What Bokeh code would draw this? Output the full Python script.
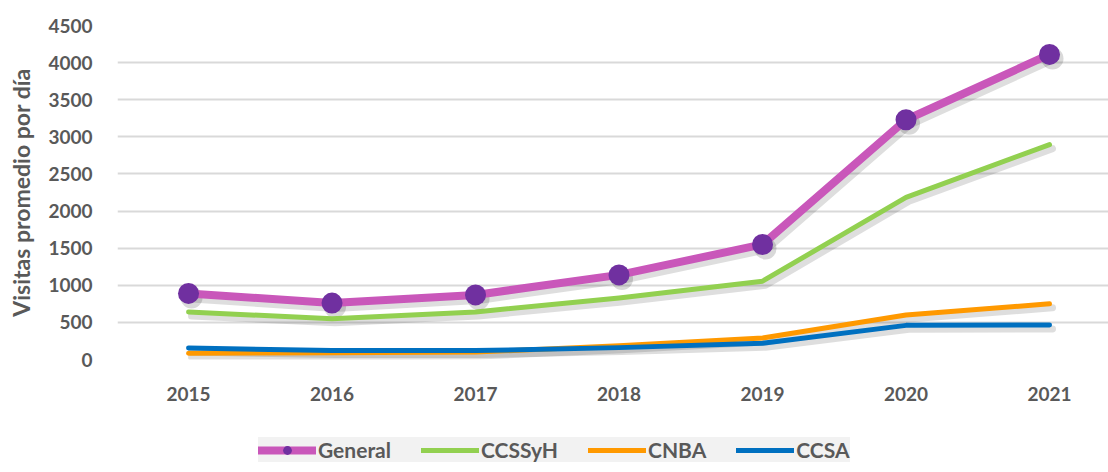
from bokeh.plotting import figure
from bokeh.layouts import column
from bokeh.models import Range1d, FixedTicker, Legend, LegendItem, ColumnDataSource
from bokeh.embed import file_html
from bokeh.resources import INLINE

years = [2015, 2016, 2017, 2018, 2019, 2020, 2021]
general = [890, 760, 870, 1140, 1550, 3230, 4110]
ccssyh = [640, 550, 640, 830, 1055, 2185, 2895]
cnba = [85, 90, 100, 185, 290, 600, 750]
ccsa = [155, 120, 120, 160, 220, 460, 465]
y_ticks = [0, 500, 1000, 1500, 2000, 2500, 3000, 3500, 4000, 4500]
x_labels = {y: str(y) for y in years}
y_label = "Visitas promedio por día"
series_names = ["General", "CCSSyH", "CNBA", "CCSA"]

FONT = "Lato"
TXT = "#595959"
C_GEN, C_GEN_M, C_CC, C_CN, C_CA = "#C957BA", "#7030A0", "#92D050", "#FF9900", "#0070C0"

W, H = 1108, 418
TOP, BOT, LEFT = 25, 59, 117
x0, x1 = 2014.505, 2021.411
y0, y1 = 0, 4500

p = figure(width=W, height=H, output_backend="svg", toolbar_location=None,
           x_range=Range1d(x0, x1), y_range=Range1d(y0, y1),
           min_border_left=LEFT, min_border_top=TOP, min_border_right=0,
           min_border_bottom=BOT)
p.outline_line_color = None

# shadow ranges (offset by a few screen pixels)
frame_w = W - LEFT
frame_h = H - TOP - BOT
dx = 3.0 * (x1 - x0) / frame_w
dy = 4.0 * (y1 - y0) / frame_h
p.extra_x_ranges = {"sx": Range1d(x0 - dx, x1 - dx)}
p.extra_y_ranges = {"sy": Range1d(y0 + dy, y1 + dy)}

src = ColumnDataSource(dict(x=years, general=general, ccssyh=ccssyh, cnba=cnba, ccsa=ccsa))

p.xgrid.grid_line_color = None
p.ygrid.ticker = FixedTicker(ticks=y_ticks)
p.ygrid.grid_line_color = "#D9D9D9"
p.ygrid.grid_line_width = 2

for col, w in [("general", 10), ("ccssyh", 7), ("cnba", 7), ("ccsa", 7)]:
    p.line("x", col, source=src, line_width=w, line_color="#000000", line_alpha=0.13,
           x_range_name="sx", y_range_name="sy", line_join="round", line_cap="round")
p.scatter("x", "general", source=src, size=22, fill_color="#000000", fill_alpha=0.15,
          line_color=None, x_range_name="sx", y_range_name="sy")

p.line("x", "general", source=src, line_width=8, line_color=C_GEN,
       line_join="round", line_cap="round")
p.scatter("x", "general", source=src, size=21, fill_color=C_GEN_M, line_color=None)
p.line("x", "ccssyh", source=src, line_width=5, line_color=C_CC,
       line_join="round", line_cap="round")
p.line("x", "cnba", source=src, line_width=5, line_color=C_CN,
       line_join="round", line_cap="round")
p.line("x", "ccsa", source=src, line_width=5, line_color=C_CA,
       line_join="round", line_cap="round")

p.xaxis.ticker = FixedTicker(ticks=years)
p.xaxis.major_label_overrides = x_labels
p.yaxis.ticker = FixedTicker(ticks=y_ticks)
for ax in (p.xaxis[0], p.yaxis[0]):
    ax.axis_line_color = None
    ax.major_tick_line_color = None
    ax.minor_tick_line_color = None
    ax.major_label_text_font = FONT
    ax.major_label_text_font_style = "bold"
    ax.major_label_text_font_size = "19px"
    ax.major_label_text_color = TXT
p.xaxis.major_label_standoff = 21
p.yaxis.major_label_standoff = 19
p.yaxis.axis_label = y_label
p.yaxis.axis_label_text_font = FONT
p.yaxis.axis_label_text_font_style = "bold"
p.yaxis.axis_label_text_font_size = "23px"
p.yaxis.axis_label_text_color = TXT
p.yaxis.axis_label_standoff = 10

# legend strip (its renderers use the same data, which lies outside this strip's ranges)
q = figure(width=W, height=54, output_backend="svg", toolbar_location=None,
           x_range=Range1d(0, 1), y_range=Range1d(0, 1),
           x_axis_type=None, y_axis_type=None,
           min_border_left=0, min_border_right=0, min_border_top=0, min_border_bottom=0)
q.outline_line_color = None
q.xgrid.grid_line_color = None
q.ygrid.grid_line_color = None
l_gen = q.line("x", "general", source=src, line_width=8, line_color=C_GEN, line_cap="round")
l_gen_m = q.scatter("x", "general", source=src, size=21, fill_color=C_GEN_M, line_color=None)
l_cc = q.line("x", "ccssyh", source=src, line_width=5, line_color=C_CC, line_cap="round")
l_cn = q.line("x", "cnba", source=src, line_width=5, line_color=C_CN, line_cap="round")
l_ca = q.line("x", "ccsa", source=src, line_width=5, line_color=C_CA, line_cap="round")

legend = Legend(items=[
    LegendItem(label=series_names[0], renderers=[l_gen, l_gen_m]),
    LegendItem(label=series_names[1], renderers=[l_cc]),
    LegendItem(label=series_names[2], renderers=[l_cn]),
    LegendItem(label=series_names[3], renderers=[l_ca]),
], orientation="horizontal", location=(141, 10))
legend.background_fill_color = "#F2F2F2"
legend.background_fill_alpha = 1
legend.border_line_color = None
legend.label_text_font = FONT
legend.label_text_font_style = "bold"
legend.label_text_font_size = "21px"
legend.label_text_color = TXT
legend.glyph_width = 58
legend.glyph_height = 22
legend.label_standoff = 2
legend.spacing = 30
legend.padding = 11
legend.margin = 0
legend.label_height = 22
q.add_layout(legend, "center")

layout = column(p, q, spacing=0)
open("out.html", "w").write(file_html(layout, INLINE))
